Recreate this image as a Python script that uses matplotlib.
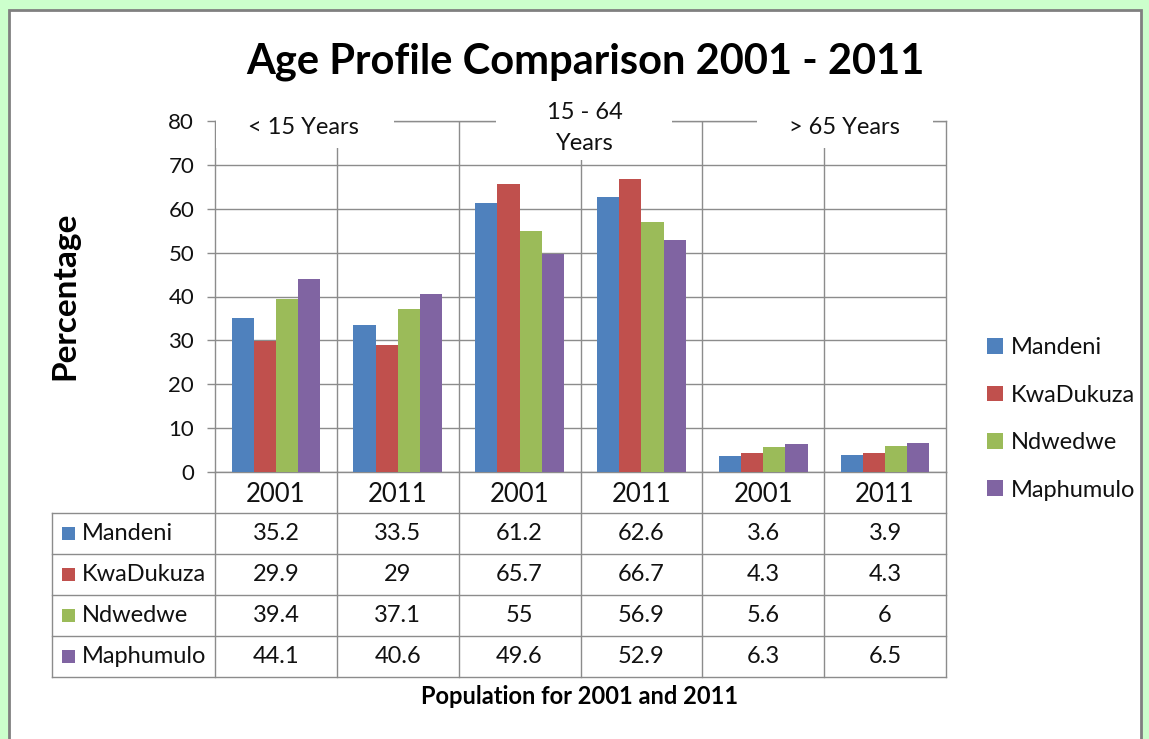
import matplotlib
matplotlib.use("Agg")
import matplotlib.pyplot as plt
from matplotlib.patches import Rectangle
from matplotlib.transforms import blended_transform_factory
import numpy as np

plt.rcParams['font.family'] = ['Lato', 'DejaVu Sans']

# data
regions = ["Mandeni", "KwaDukuza", "Ndwedwe", "Maphumulo"]
years = ["2001", "2011", "2001", "2011", "2001", "2011"]
age_groups = ["< 15 Years", "15 - 64\nYears", "> 65 Years"]
mandeni = [35.2, 33.5, 61.2, 62.6, 3.6, 3.9]
kwadukuza = [29.9, 29, 65.7, 66.7, 4.3, 4.3]
ndwedwe = [39.4, 37.1, 55, 56.9, 5.6, 6]
maphumulo = [44.1, 40.6, 49.6, 52.9, 6.3, 6.5]
colors = ["#4F81BD", "#C0504D", "#9BBB59", "#8064A2"]

series = [mandeni, kwadukuza, ndwedwe, maphumulo]

W, H = 1149, 739
fig = plt.figure(figsize=(W / 100, H / 100), dpi=100)
fig.patch.set_facecolor("#CCFFCC")
txt_c = "#111111"

# background panel (pixel coords)
bg = fig.add_axes([0, 0, 1, 1], zorder=0)
bg.set_xlim(0, W)
bg.set_ylim(H, 0)
bg.axis("off")
bg.add_patch(Rectangle((9, 10), 1132, 740, facecolor="white", edgecolor="#808080", lw=2))

# plot area
ax = fig.add_axes([215 / W, 1 - 472 / H, (946 - 215) / W, (472 - 121) / H], zorder=1)
ax.set_xlim(0, 6)
ax.set_ylim(0, 80)
grid_c = "#8C8C8C"
x = np.arange(len(years)) + 0.5
w = 0.182
for j, vals in enumerate(series):
    ax.bar(x + (j - 1.5) * w, vals, width=w, color=colors[j], label=regions[j], zorder=3)

ax.set_yticks(range(0, 81, 10))
ax.yaxis.grid(True, color=grid_c, lw=1)
for b in range(1, 6):
    ax.axvline(b, color=grid_c, lw=1, zorder=1)
ax.set_xticks([])
for s in ["left", "right", "bottom", "top"]:
    ax.spines[s].set_color(grid_c)
    ax.spines[s].set_linewidth(1)
ax.tick_params(axis="y", length=6, width=1, color=grid_c, pad=9, labelsize=16, labelcolor=txt_c)
ax.set_axisbelow(True)

# overlay in pixel coords
fg = fig.add_axes([0, 0, 1, 1], zorder=2)
fg.set_xlim(0, W)
fg.set_ylim(H, 0)
fg.axis("off")
fg.patch.set_visible(False)
tr = blended_transform_factory(ax.transData, fg.transData)

fg.text(585, 62, "Age Profile Comparison 2001 - 2011", ha="center", va="center",
        fontsize=30, fontweight="bold", color="black")
fg.text(65, 296, "Percentage", ha="center", va="center", rotation=90,
        fontsize=24, fontweight="bold", color="black")

# age group labels on white boxes
boxes = [(216, 394, 100, 148), (496, 672, 88, 160), (757, 933, 100, 148)]
label_x = [303, 585, 844]
for (x0, x1, y0, y1) in boxes:
    fg.add_patch(Rectangle((x0, y0), x1 - x0, y1 - y0, facecolor="white", edgecolor="none"))
for lx, lab in zip(label_x, age_groups):
    fg.text(lx, 128, lab, ha="center", va="center",
            fontsize=17, color=txt_c, linespacing=1.6)

# data table below the axis
row_h = 41
top = 513
fg.plot([215, 215], [472, 677], color=grid_c, lw=1)
for b in range(1, 7):
    fg.plot([b, b], [472, 677], color=grid_c, lw=1, transform=tr)
for r in range(5):
    fg.plot([52, 946], [top + r * row_h] * 2, color=grid_c, lw=1)
fg.plot([52, 52], [top, top + 4 * row_h], color=grid_c, lw=1)

for i, yr in enumerate(years):
    fg.text(i + 0.5, 494, yr, transform=tr, ha="center", va="center", fontsize=18.5, color=txt_c)

for r, (name, vals) in enumerate(zip(regions, series)):
    yc = top + r * row_h + row_h / 2
    fg.add_patch(Rectangle((62, yc - 7), 13, 13, facecolor=colors[r], edgecolor="none"))
    fg.text(82, yc, name, ha="left", va="center", fontsize=17, color=txt_c)
    for i, v in enumerate(vals):
        fg.text(i + 0.5, yc, f"{v:g}", transform=tr, ha="center", va="center",
                fontsize=17, color=txt_c)

fg.text(580, 697, "Population for 2001 and 2011", ha="center", va="center",
        fontsize=17, fontweight="bold", color="black")

# legend
fig.legend(loc="center left", bbox_to_anchor=(966 / W, 1 - 419 / H), frameon=False,
           fontsize=17, handlelength=0.65, handleheight=0.65, handletextpad=0.35,
           labelspacing=1.12, labelcolor=txt_c)

fig.savefig("out.png", dpi=100, facecolor=fig.get_facecolor())
